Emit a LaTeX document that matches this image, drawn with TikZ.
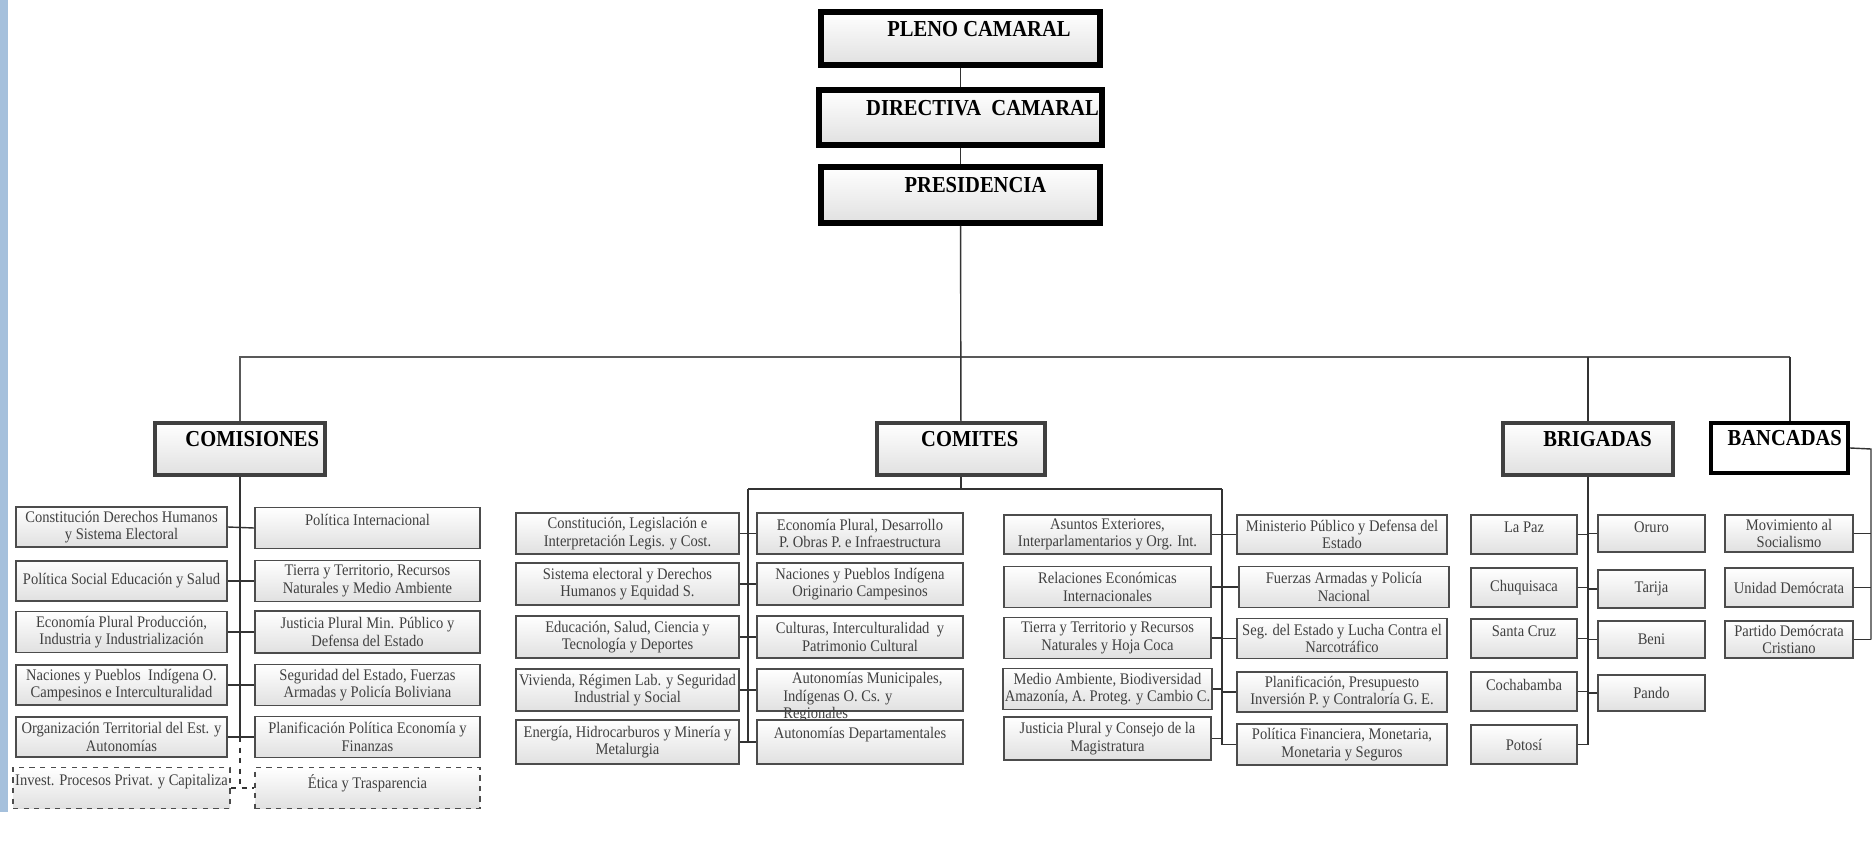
\documentclass[tikz,border=0pt]{standalone}
\usepackage{fontspec}
\setmainfont{Liberation Serif}
\newfontfamily\narrowfont[FakeStretch=0.9]{Liberation Serif}
\newcommand\pu{0.02cm}
\tikzset{
  box/.style={draw=black!70, line width=1.1pt, top color=white, bottom color=black!12, font=\narrowfont\fontsize{9.2}{10}\selectfont, text=black!75, align=center, inner sep=1pt},
  sz/.style 2 args={minimum width=#1*\pu, minimum height=#2*\pu},
  tp/.style={label={[font=\narrowfont\fontsize{9.2}{10}\selectfont, text=black!75, align=center, anchor=north, yshift=-1pt]north:#1}},
  head/.style={draw=black!75, line width=2pt, top color=white, bottom color=black!12, font=\narrowfont\fontsize{13}{14}\selectfont\bfseries, inner sep=2pt, text depth=11pt, execute at begin node={\hspace*{#1}}},
  head/.default=16pt,
  link/.style={draw=black!80, line width=.8pt},
  bus/.style={draw=black!65, line width=1.4pt},
}
\begin{document}
\begin{tikzpicture}[x=0.02cm, y=-0.02cm]
\useasboundingbox (0,0) rectangle (1874,865);
\fill[fill={rgb,255:red,165;green,192;blue,220}] (0,0) rectangle (8,812);

\node[head=21pt, draw=black, line width=3.2pt, sz={279}{53}] (pleno) at (960.5,38.5) {PLENO CAMARAL};
\node[head=25pt, draw=black, line width=3.2pt, sz={279}{55}] (directiva) at (960.5,117.5) {DIRECTIVA\ \ CAMARAL};
\node[head=17pt, draw=black, line width=3.2pt, sz={279}{56}] (presidencia) at (960.5,195) {PRESIDENCIA};
\draw[link] (pleno) -- (directiva);
\draw[link] (directiva) -- (presidencia);

\node[head=14pt, sz={170}{52}] (comisiones) at (240,449) {COMISIONES};
\node[head=10pt, sz={168}{52}] (comites) at (961,449) {COMITES};
\node[head=11pt, sz={170}{52}] (brigadas) at (1588,449) {BRIGADAS};
\node[head=6pt, draw=black, line width=2.4pt, top color=white, bottom color=white, sz={137}{50}] (bancadas) at (1779.5,448) {BANCADAS};

\coordinate (busl) at (240,357);
\coordinate (busr) at (1790,357);
\draw[bus] (comisiones.north) -- (busl) -- (busr);
\draw[link] (busr) -- (busr |- bancadas.north);
\draw[link] (brigadas.north) -- (brigadas.north |- busl);
\draw[link] (presidencia) -- (comites);

% comisiones
\node[box, sz={211}{40}] (c1l) at (121.5,527) {Constitución Derechos Humanos\\y Sistema Electoral};
\node[box, sz={225}{41}, tp={Política Internacional}] (c1r) at (367.5,528) {};
\node[box, sz={211}{40}] (c2l) at (121.5,581) {Política Social Educación y Salud};
\node[box, sz={225}{41}] (c2r) at (367.5,581) {Tierra y Territorio, Recursos\\Naturales y Medio Ambiente};
\node[box, sz={211}{41}] (c3l) at (121.5,632) {Economía Plural Producción,\\Industria y Industrialización};
\node[box, sz={225}{42}] (c3r) at (367.5,632) {Justicia Plural Min. Público y\\Defensa del Estado};
\node[box, sz={211}{40}] (c4l) at (121.5,685) {Naciones y Pueblos\ \ Indígena O.\\Campesinos e Interculturalidad};
\node[box, sz={225}{41}] (c4r) at (367.5,685) {Seguridad del Estado, Fuerzas\\Armadas y Policía Boliviana};
\node[box, sz={211}{40}] (c5l) at (121.5,737) {Organización Territorial del Est. y\\Autonomías};
\node[box, sz={225}{41}] (c5r) at (367.5,737) {Planificación Política Economía y\\Finanzas};
\node[box, dashed, sz={217}{41}, tp={Invest. Procesos Privat. y Capitaliza}] (c6l) at (121.5,788) {};
\node[box, dashed, sz={225}{41}, tp={Ética y Trasparencia}] (c6r) at (367.5,788) {};
\draw[link] (comisiones.south) -- (comisiones.south |- c5l.east);
\foreach \i in {1,...,5}
  \draw[link] (c\i l.east) -- (c\i r.west);
\draw[link, dashed] (comisiones.south |- c5l.east) -- (comisiones.south |- c6l.east);
\draw[link, dashed] (c6l.east) -- (c6r.west);

% comites
\coordinate (mtl) at (748,489);
\coordinate (mtr) at (1222,489);
\draw[link] (comites.south) -- (comites.south |- mtl);
\draw[link] (mtl) -- (mtr);
\node[box, sz={223}{41}] (m1l) at (627.5,533.5) {Constitución, Legislación e\\Interpretación Legis. y Cost.};
\node[box, sz={206}{41}] (m1r) at (860,533.5) {Economía Plural, Desarrollo\\P. Obras P. e Infraestructura};
\node[box, sz={223}{42}] (m2l) at (627.5,584) {Sistema electoral y Derechos\\Humanos y Equidad S.};
\node[box, sz={206}{42}] (m2r) at (860,584) {Naciones y Pueblos Indígena\\Originario Campesinos};
\node[box, sz={223}{42}] (m3l) at (627.5,637) {Educación, Salud, Ciencia y\\Tecnología y Deportes};
\node[box, sz={206}{42}] (m3r) at (860,637) {Culturas, Interculturalidad\ \ y\\Patrimonio Cultural};
\node[box, sz={223}{42}] (m4l) at (627.5,690) {Vivienda, Régimen Lab. y Seguridad\\Industrial y Social};
\node[box, sz={206}{42}, label={[font=\narrowfont\fontsize{9.2}{10}\selectfont, text=black!75, align=left, anchor=north west, yshift=1pt, xshift=12pt]north west:\hspace*{5pt}Autonomías Municipales,\\Indígenas O. Cs. y\\Regionales}] (m4r) at (860,690) {};
\node[box, sz={223}{44}] (m5l) at (627.5,742) {Energía, Hidrocarburos y Minería y\\Metalurgia};
\node[box, sz={206}{44}, tp={Autonomías Departamentales}] (m5r) at (860,742) {};
\draw[link] (mtl) -- (mtl |- m5l.east);
\foreach \i in {1,...,5}
  \draw[link] (m\i l.east) -- (m\i r.west);

\node[box, sz={207}{39}] (n1l) at (1107.5,534.5) {Asuntos Exteriores,\\Interparlamentarios y Org. Int.};
\node[box, sz={210}{39}] (n1r) at (1342,534.5) {Ministerio Público y Defensa del\\Estado};
\node[box, sz={207}{41}] (n2l) at (1107.5,587) {Relaciones Económicas\\Internacionales};
\node[box, sz={210}{41}] (n2r) at (1344,587) {Fuerzas Armadas y Policía\\Nacional};
\node[box, sz={207}{41}] (n3l) at (1107.5,638) {Tierra y Territorio y Recursos\\Naturales y Hoja Coca};
\node[box, sz={210}{40}] (n3r) at (1342,638.5) {Seg. del Estado y Lucha Contra el\\Narcotráfico};
\node[box, sz={207}{41}] (n4l) at (1107.5,689) {Medio Ambiente, Biodiversidad\\Amazonía, A. Proteg. y Cambio C.};
\node[box, sz={210}{40}] (n4r) at (1342,692) {Planificación, Presupuesto\\Inversión P. y Contraloría G. E.};
\node[box, sz={207}{43}] (n5l) at (1107.5,738.5) {Justicia Plural y Consejo de la\\Magistratura};
\node[box, sz={210}{41}] (n5r) at (1342,744.5) {Política Financiera, Monetaria,\\Monetaria y Seguros};
\draw[link] (mtr) -- (mtr |- n5r.west);
\foreach \i in {1,...,5} {
  \draw[link] (n\i l.east) -- (n\i l.east -| mtr);
  \draw[link] (n\i r.west) -- (n\i r.west -| mtr);
}

% brigadas
\node[box, sz={106}{39}, tp={La Paz}] (b1l) at (1524,534.5) {};
\node[box, sz={107}{37}, tp={Oruro}] (b1r) at (1651.5,533.5) {};
\node[box, sz={106}{39}] (b2l) at (1524,587.5) {Chuquisaca};
\node[box, sz={107}{38}] (b2r) at (1651.5,589) {Tarija};
\node[box, sz={106}{39}, tp={Santa Cruz}] (b3l) at (1524,638.5) {};
\node[box, sz={107}{37}] (b3r) at (1651.5,639.5) {Beni};
\node[box, sz={106}{39}, tp={Cochabamba}] (b4l) at (1524,691.5) {};
\node[box, sz={107}{36}] (b4r) at (1651.5,693) {Pando};
\node[box, sz={106}{39}] (b5l) at (1524,744.5) {Potosí};
\draw[link] (brigadas.south) -- (brigadas.south |- b5l.east);
\foreach \i in {1,...,4} {
  \draw[link] (b\i l.east) -- (b\i l.east -| brigadas.south);
  \draw[link] (b\i r.west) -- (b\i r.west -| brigadas.south);
}
\draw[link] (b5l.east) -- (b5l.east -| brigadas.south);

% bancadas
\node[box, sz={128}{37}] (k1) at (1789,533.5) {Movimiento al\\Socialismo};
\node[box, sz={128}{39}] (k2) at (1789,587.5) {Unidad Demócrata};
\node[box, sz={128}{37}] (k3) at (1789,639.5) {Partido Demócrata\\Cristiano};
\coordinate (krail) at (1871,449);
\draw[link] (bancadas.east) -- (krail) -- (krail |- k3.east);
\foreach \i in {1,2,3}
  \draw[link] (k\i.east) -- (k\i.east -| krail);
\end{tikzpicture}
\end{document}
